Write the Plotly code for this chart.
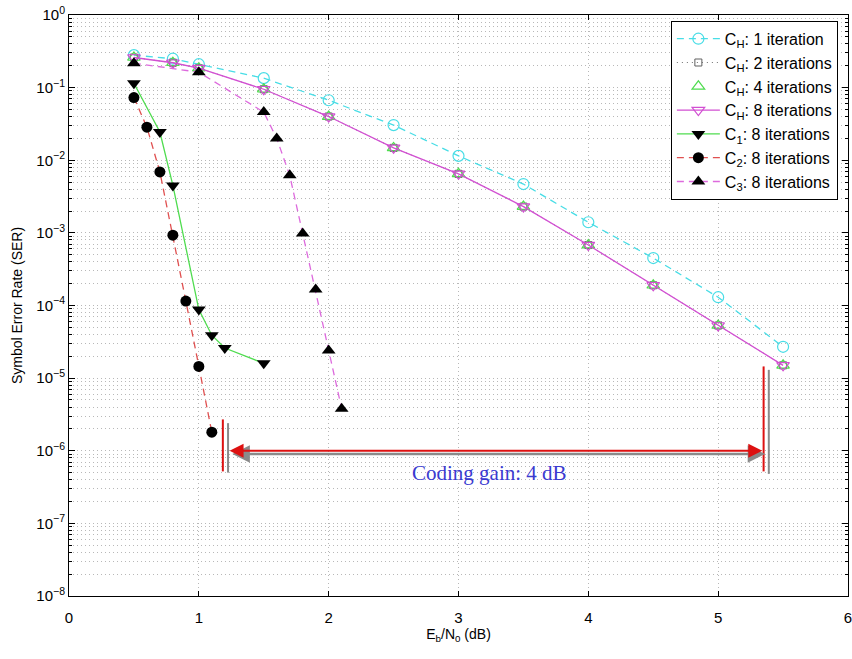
import plotly.graph_objects as go

# ---------------- data ----------------
x_ch = [0.5, 0.8, 1.0, 1.5, 2.0, 2.5, 3.0, 3.5, 4.0, 4.5, 5.0, 5.5]
ser_ch1 = [0.28, 0.25, 0.21, 0.135, 0.067, 0.0305, 0.0115, 0.0047, 0.0014, 4.5e-4, 1.3e-4, 2.7e-5]
ser_ch2 = [0.26, 0.22, 0.185, 0.095, 0.040, 0.0148, 0.0065, 0.0023, 6.8e-4, 1.9e-4, 5.3e-5, 1.5e-5]
ser_ch4 = [0.26, 0.22, 0.185, 0.095, 0.040, 0.0148, 0.0065, 0.0023, 6.8e-4, 1.9e-4, 5.3e-5, 1.5e-5]
ser_ch8 = [0.26, 0.22, 0.185, 0.095, 0.040, 0.0148, 0.0065, 0.0023, 6.8e-4, 1.9e-4, 5.3e-5, 1.5e-5]

x_c1 = [0.5, 0.7, 0.8, 1.0, 1.1, 1.2, 1.5]
ser_c1 = [0.115, 0.0245, 0.0045, 8.8e-5, 3.9e-5, 2.6e-5, 1.6e-5]

x_c2 = [0.5, 0.6, 0.7, 0.8, 0.9, 1.0, 1.1]
ser_c2 = [0.073, 0.0285, 0.0069, 9.3e-4, 1.15e-4, 1.45e-5, 1.8e-6]

x_c3 = [0.5, 1.0, 1.5, 1.6, 1.7, 1.8, 1.9, 2.0, 2.1]
ser_c3 = [0.217, 0.163, 0.046, 0.020, 0.0062, 9.8e-4, 1.66e-4, 2.4e-5, 3.8e-6]

x_ticks = [0, 1, 2, 3, 4, 5, 6]
y_exps = [0, -1, -2, -3, -4, -5, -6, -7, -8]
y_tick_labels = ["10<sup>0</sup>"] + ["10<sup>\u2212%d</sup>" % (-e) for e in y_exps[1:]]

names = ["C<sub>H</sub>: 1 iteration", "C<sub>H</sub>: 2 iterations",
         "C<sub>H</sub>: 4 iterations", "C<sub>H</sub>: 8 iterations",
         "C<sub>1</sub>: 8 iterations", "C<sub>2</sub>: 8 iterations",
         "C<sub>3</sub>: 8 iterations"]

gain_x = [1.225, 5.34]      # arrow ends (dB)
gain_text = "Coding gain: 4 dB"

# ---------------- figure ----------------
CYAN = "#48dde6"
MAG = "#d24fd2"
GREEN = "#4fdc4f"
RED = "#e05050"
MAG2 = "#dd6add"

fig = go.Figure()
fig.add_trace(go.Scatter(x=x_ch, y=ser_ch1, name=names[0], mode="lines+markers",
                         line=dict(color=CYAN, width=1.3, dash="7px,5px"),
                         marker=dict(symbol="circle-open", size=11, color=CYAN, line=dict(width=1.2))))
fig.add_trace(go.Scatter(x=x_ch, y=ser_ch2, name=names[1], mode="lines+markers",
                         line=dict(color="#707070", width=1, dash="1px,4px"),
                         marker=dict(symbol="square-open", size=7, color="#606060", line=dict(width=1))))
fig.add_trace(go.Scatter(x=x_ch, y=ser_ch4, name=names[2], mode="markers",
                         marker=dict(symbol="triangle-up-open", size=11, color=GREEN, line=dict(width=1.2))))
fig.add_trace(go.Scatter(x=x_ch, y=ser_ch8, name=names[3], mode="lines+markers",
                         line=dict(color=MAG, width=1.3),
                         marker=dict(symbol="triangle-down-open", size=11, color=MAG, line=dict(width=1.2))))
fig.add_trace(go.Scatter(x=x_c1, y=ser_c1, name=names[4], mode="lines+markers",
                         line=dict(color=GREEN, width=1.3),
                         marker=dict(symbol="triangle-down", size=12, color="black")))
fig.add_trace(go.Scatter(x=x_c2, y=ser_c2, name=names[5], mode="lines+markers",
                         line=dict(color=RED, width=1.3, dash="7px,5px"),
                         marker=dict(symbol="circle", size=11, color="black")))
fig.add_trace(go.Scatter(x=x_c3, y=ser_c3, name=names[6], mode="lines+markers",
                         line=dict(color=MAG2, width=1.3, dash="7px,5px"),
                         marker=dict(symbol="triangle-up", size=12, color="black")))

# vertical bars + double arrow (with gray shadow)
shapes = [
    dict(type="line", xref="x", yref="y", x0=1.225, x1=1.225, y0=2.4e-6, y1=5.0e-7,
         line=dict(color="#8a8a8a", width=2)),
    dict(type="line", xref="x", yref="y", x0=1.185, x1=1.185, y0=2.7e-6, y1=5.2e-7,
         line=dict(color="#dd1111", width=2)),
    dict(type="line", xref="x", yref="y", x0=5.39, x1=5.39, y0=1.3e-5, y1=4.8e-7,
         line=dict(color="#8a8a8a", width=2)),
    dict(type="line", xref="x", yref="y", x0=5.35, x1=5.35, y0=1.45e-5, y1=5.2e-7,
         line=dict(color="#dd1111", width=2)),
]
fig.update_layout(shapes=shapes)

for col, dx, dy, w in [("#8a8a8a", 0.022, -0.045, 2.5), ("#dd1111", 0.0, 0.0, 2)]:
    fig.add_annotation(x=gain_x[1] + dx, y=-6.0 + dy, ax=gain_x[0] + dx, ay=-6.0 + dy,
                       xref="x", yref="y", axref="x", ayref="y", text="",
                       showarrow=True, arrowside="end+start", arrowhead=2, startarrowhead=2,
                       arrowsize=1.4, startarrowsize=1.4, arrowwidth=w, arrowcolor=col,
                       standoff=0, startstandoff=0)

fig.add_annotation(x=3.24, y=-6.31, xref="x", yref="y", text=gain_text, showarrow=False,
                   font=dict(family="Liberation Serif, Times New Roman, serif", size=21, color="#3a3ad0"))

minor_vals = [m * 10.0 ** e for e in range(-8, 0) for m in range(2, 10)]

GRID = "#b8b8b8"
fig.update_xaxes(range=[0, 6], tickvals=x_ticks, ticks="inside", ticklen=5, tickcolor="black",
                 showline=True, linecolor="black", linewidth=1, mirror="ticks", automargin=False,
                 ticklabeloverflow="allow",
                 showgrid=True, gridcolor=GRID, griddash="1px,3px", gridwidth=1, zeroline=False,
                 tickfont=dict(size=15, color="black"), ticklabelstandoff=8,
                 title=dict(text="E<sub>b</sub>/N<sub>0</sub> (dB)", font=dict(size=14, color="black"), standoff=1))
fig.update_yaxes(type="log", range=[-8, 0], tickvals=[10.0 ** e for e in y_exps], ticktext=y_tick_labels,
                 ticks="inside", ticklen=6, tickcolor="black", automargin=False,
                 ticklabeloverflow="allow",
                 showline=True, linecolor="black", linewidth=1, mirror="ticks",
                 showgrid=True, gridcolor=GRID, griddash="1px,3px", gridwidth=1, zeroline=False,
                 tickfont=dict(size=15, color="black"),
                 minor=dict(tickvals=minor_vals, ticks="inside", ticklen=3, tickcolor="black",
                            showgrid=True, gridcolor=GRID, griddash="1px,3px", gridwidth=1),
                 title=dict(text="Symbol Error Rate (SER)", font=dict(size=14, color="black"), standoff=10))

fig.update_layout(width=852, height=659, margin=dict(l=69, r=4, t=15, b=63),
                  plot_bgcolor="white", paper_bgcolor="white",
                  font=dict(family="Liberation Sans, Arial, Helvetica, sans-serif", color="black"),
                  legend=dict(x=0.987, y=0.990, xanchor="right", yanchor="top",
                              bgcolor="white", bordercolor="black", borderwidth=1,
                              font=dict(size=16, color="black"), tracegroupgap=0,
                              itemwidth=43),
                  showlegend=True)

fig.write_html("out.html", config={"displayModeBar": False},
               post_script="document.documentElement.style.margin='0';"
                           "document.body.style.margin='0';document.body.style.padding='0';"
                           "document.body.style.overflow='hidden';"
                           "document.documentElement.style.overflow='hidden';")
